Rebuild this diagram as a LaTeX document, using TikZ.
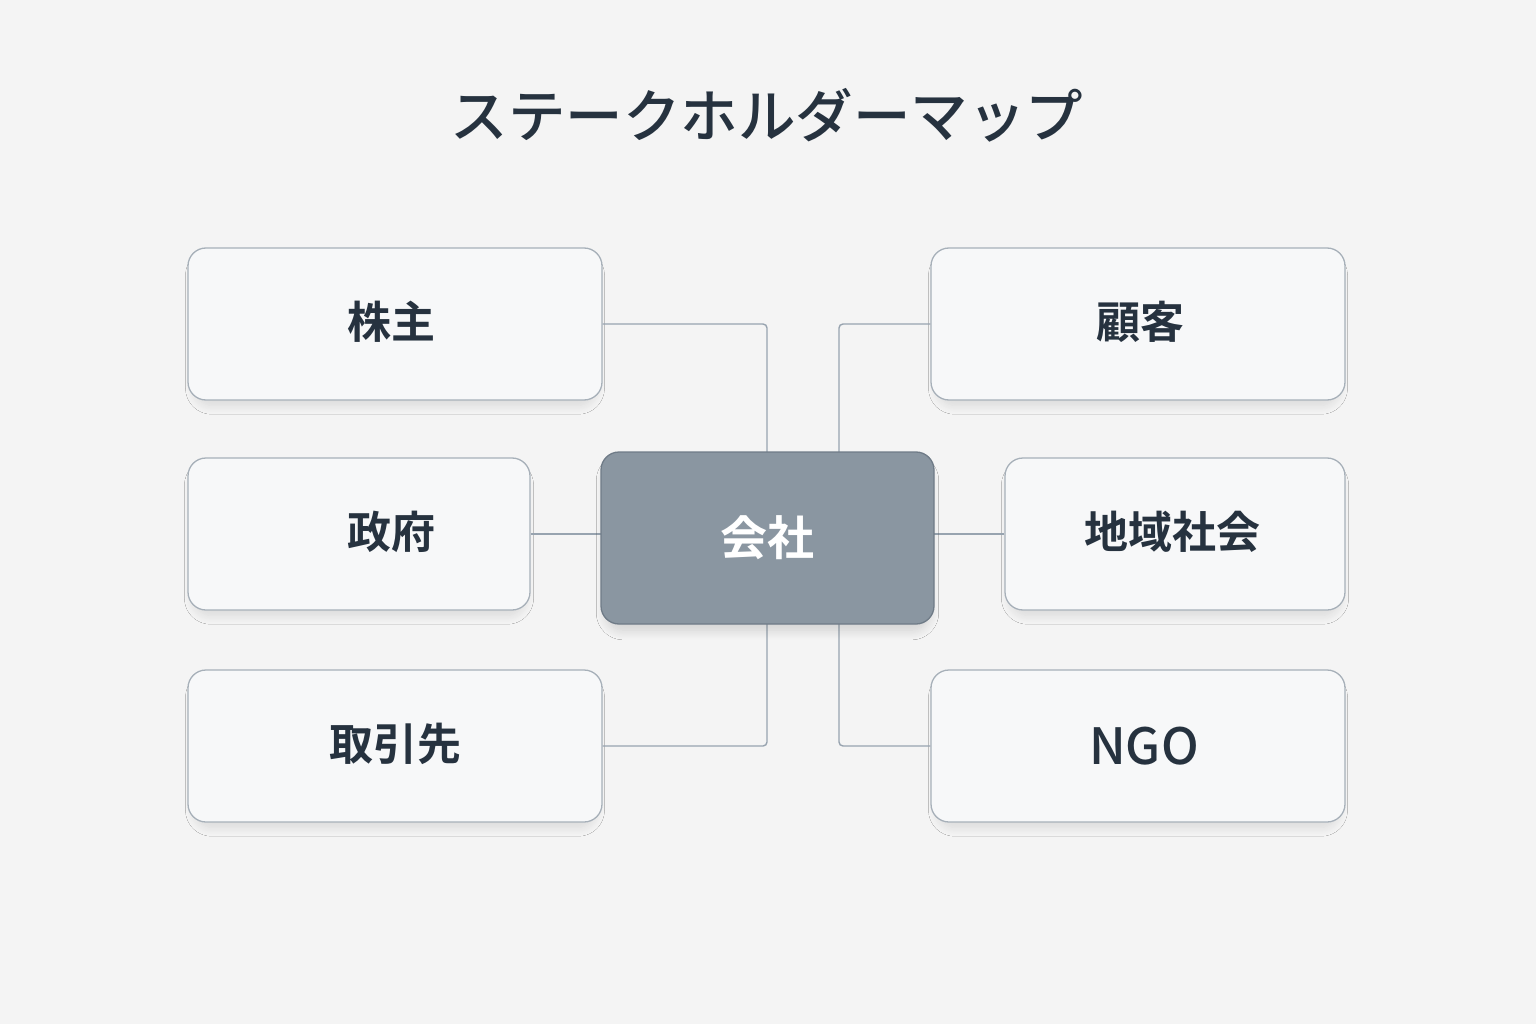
\documentclass[tikz,border=0pt]{standalone}
\usepackage{fontspec}
\newfontfamily\cjk{Noto Sans CJK JP}[UprightFont={* Medium}, BoldFont={* Bold}]
\usetikzlibrary{shadows.blur}
\definecolor{bg}{HTML}{F4F4F4}
\definecolor{boxfill}{HTML}{F7F8F9}
\definecolor{boxline}{HTML}{A7B0B9}
\definecolor{connline}{HTML}{97A3AF}
\definecolor{ink}{HTML}{26323F}
\definecolor{corefill}{HTML}{8A96A1}
\definecolor{coreline}{HTML}{6F7B87}
\tikzset{
  holder/.style={draw=boxline, line width=1.3pt, fill=boxfill, rounded corners=18pt,
    minimum height=152pt, inner sep=0pt,
    blur shadow={shadow xshift=0pt, shadow yshift=-8pt, shadow scale=0.97, shadow blur radius=9pt, shadow opacity=11, shadow blur steps=12}},
  core/.style={draw=coreline, line width=1.3pt, fill=corefill, rounded corners=18pt,
    minimum width=333pt, minimum height=172pt, inner sep=0pt, text=white,
    font=\cjk\bfseries\fontsize{47}{52}\selectfont,
    blur shadow={shadow xshift=0pt, shadow yshift=-9pt, shadow scale=0.97, shadow blur radius=10pt, shadow opacity=15, shadow blur steps=12}},
  conn/.style={draw=connline, line width=1.4pt, rounded corners=4pt},
  label/.style={text=ink, font=\cjk\bfseries\fontsize{44}{50}\selectfont}
}
\begin{document}
\begin{tikzpicture}[x=1pt,y=-1pt]
\fill[bg] (0,0) rectangle (1536,1024);
\useasboundingbox (0,0) rectangle (1536,1024);
\node[text=ink, font=\cjk\fontsize{57.5}{63}\selectfont] (title) at (767,115) {ステークホルダーマップ};
% boxes
\node[holder, minimum width=414pt] (kabu) at (395,324) {};
\node[label] (kabut) at (391,322) {株主};
\node[holder, minimum width=342pt] (seifu) at (359,534) {};
\node[label] (seifut) at (391,532) {政府};
\node[holder, minimum width=414pt] (tori) at (395,746) {};
\node[label] (torit) at (395,744) {取引先};
\node[holder, minimum width=414pt] (kokyaku) at (1138,324) {};
\node[label] (kokyakut) at (1140,322) {顧客};
\node[holder, minimum width=340pt] (chiiki) at (1175,534) {};
\node[label] (chiikit) at (1172,532) {地域社会};
\node[holder, minimum width=414pt] (ngo) at (1138,746) {};
\node[label, font=\cjk\fontsize{50}{56}\selectfont] (ngot) at (1144,746) {NGO};
% connectors
\draw[conn] (kabu.east) -| (767,452);
\draw[conn] (kokyaku.west) -| (839,452);
\draw[conn] (seifu.east) -- (601,534);
\draw[conn] (chiiki.west) -- (934,534);
\draw[conn] (tori.east) -| (767,624);
\draw[conn] (ngo.west) -| (839,624);
% center
\node[core] (kaisha) at (767.5,538) {会社};
\end{tikzpicture}
\end{document}
